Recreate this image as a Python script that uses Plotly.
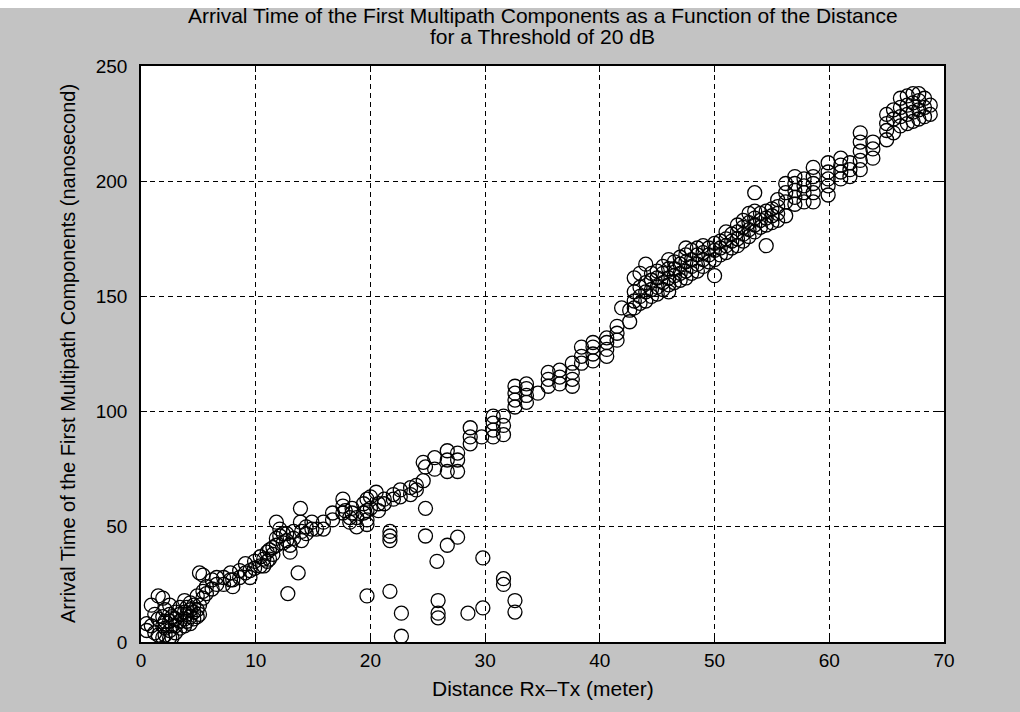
import plotly.graph_objects as go

# ---------------- data ----------------
stations_a = [0.5, 0.9, 1.2, 1.5, 1.9, 2.1, 2.5, 2.7, 3.0, 3.4, 3.8, 4.0, 4.3, 4.6, 4.9,
              5.1, 5.4, 5.7, 6.2, 6.6, 7.2, 7.8, 8.0, 8.6, 9.1, 9.5, 9.9, 10.4, 10.7,
              11.0, 11.2, 11.5, 11.8]
times_a = [[5, 8], [16, 7], [12, 4], [20, 10, 3], [19, 11, 7, 2], [14, 9, 3, 6],
           [9, 5, 2, 12, 16], [2, 7, 11], [7, 4, 10, 13], [9, 6, 12, 15], [18, 10, 7, 13],
           [12, 9, 15], [8, 11, 14, 17], [10, 13, 16], [11, 14, 20], [12, 30, 16],
           [29, 19, 22], [24, 21], [27, 23], [28, 25], [25, 28], [30, 27], [27, 24],
           [31, 28], [34, 30], [31, 28], [35, 32], [37, 33], [33, 36], [39, 35], [36, 40],
           [41, 38], [45, 52, 42]]

stations_b = [12.1, 12.4, 12.7, 13.0, 13.3, 13.9, 14.0, 14.4, 14.9, 15.3, 15.9, 16.7,
              17.6, 17.8, 18.2, 18.4, 18.8, 19.4, 19.7, 20.0, 20.5, 20.7, 21.2, 22.0,
              22.6, 23.5, 24.0, 24.6, 24.8, 25.6, 26.7, 27.6, 28.7, 29.7]
times_b = [[49, 46], [43, 47], [47, 44], [39, 42], [45, 48], [58, 52], [44, 48], [47, 50],
           [52, 49], [49], [49, 52], [56, 53], [62, 56, 59], [57], [52, 54], [56, 58],
           [54, 50], [60, 56], [51, 53, 57, 62], [63, 58], [65], [60, 57], [62, 60],
           [62, 64], [66, 63], [67, 64], [66, 68], [78, 70], [76], [80, 75], [74, 79, 83],
           [74, 79, 82], [86, 89, 93], [89]]

stations_c = [30.7, 31.6, 32.6, 33.6, 34.6, 35.5, 36.5, 37.6, 38.4, 39.4, 40.6, 41.5,
              41.9, 42.6]
times_c = [[89, 92, 95, 98], [90, 94, 98], [102, 105, 108, 111], [104, 107, 110, 112],
           [108], [111, 114, 117], [112, 115, 118], [111, 114, 117, 121], [121, 124, 128],
           [122, 125, 128, 130], [124, 127, 130, 132], [131, 134, 137], [145], [139, 144]]

stations_d = [43.0, 43.5, 44.0, 44.5, 45.0, 45.5, 46.0, 46.5, 47.0, 47.5, 48.0, 48.5,
              49.0, 49.5, 50.0, 50.5, 51.0, 51.5, 52.0, 52.5, 53.0, 53.5, 54.0, 54.5, 55.0]
times_d = [[145, 148, 152, 158], [147, 150, 154, 160], [148, 152, 156, 164],
           [150, 153, 157, 160], [151, 154, 158, 161], [153, 156, 160, 163],
           [152, 155, 158, 162, 166], [156, 159, 162, 165], [157, 160, 164, 167],
           [158, 161, 165, 168, 171], [160, 163, 166, 170], [161, 164, 168, 171],
           [163, 166, 169, 172], [165, 168, 171], [159, 166, 170, 173], [168, 171, 174],
           [169, 172, 175, 178], [171, 174, 177], [172, 175, 178, 181], [174, 177, 180, 183],
           [176, 179, 182, 186], [178, 181, 184, 187, 195], [180, 183, 186],
           [172, 181, 184, 187], [182, 185, 188]]

stations_e = [55.5, 56.2, 57.0, 57.8, 58.6, 59.9, 61.0, 61.8, 62.7, 63.8, 65.0, 65.6,
              66.2, 66.8, 67.3, 67.8, 68.3, 68.8]
times_e = [[183, 186, 189, 192], [185, 191, 195, 199], [190, 193, 196, 199, 202],
           [191, 195, 198, 201], [191, 195, 199, 202, 206], [194, 198, 201, 204, 208],
           [201, 204, 207, 210], [202, 205, 208], [205, 209, 213, 217, 221],
           [210, 214, 217], [218, 222, 225, 229], [221, 227, 231], [224, 228, 232, 236],
           [225, 229, 233, 237], [226, 230, 234, 238], [227, 231, 235, 238],
           [228, 232, 236], [229, 233]]

outlier_x = [12.8, 13.7, 19.7, 21.7, 21.7, 21.7, 21.7, 22.7, 22.7, 24.8, 24.8, 25.8,
             25.9, 25.9, 25.9, 26.7, 27.6, 28.5, 29.8, 29.8, 31.6, 31.6, 32.6, 32.6]
outlier_y = [21, 30, 20, 22, 44, 46, 48, 12.5, 2.5, 58, 46, 35, 18, 12.5, 10.5, 42, 45.5,
             12.5, 14.8, 36.5, 27.5, 25, 18, 13]

x_ticks = [0, 10, 20, 30, 40, 50, 60, 70]
y_ticks = [0, 50, 100, 150, 200, 250]

title_line1 = "Arrival Time of the First Multipath Components as a Function of the Distance"
title_line2 = "for a Threshold of 20 dB"
x_title = "Distance Rx\u2013Tx (meter)"
y_title = "Arrival Time of the First Multipath Components (nanosecond)"

# ---------------- assemble ----------------
xs, ys = [], []
for st, tm in [(stations_a, times_a), (stations_b, times_b), (stations_c, times_c),
               (stations_d, times_d), (stations_e, times_e)]:
    for sx, tl in zip(st, tm):
        for t in tl:
            xs.append(sx)
            ys.append(t)
xs += outlier_x
ys += outlier_y

FONT = "Liberation Sans, Arial, sans-serif"
BG = "#c3c3c3"

fig = go.Figure()
fig.add_trace(go.Scatter(
    x=xs, y=ys, mode="markers",
    marker=dict(symbol="circle-open", size=14, color="black", line=dict(width=1.3, color="black")),
    showlegend=False, hoverinfo="skip"))

axis_common = dict(
    showline=True, linecolor="black", linewidth=1.5, mirror="ticks",
    ticks="inside", ticklen=6, tickcolor="black", tickwidth=1,
    showgrid=True, gridcolor="black", gridwidth=1, griddash="5px,4px",
    zeroline=False, tickfont=dict(family=FONT, size=19, color="black"),
)

fig.update_xaxes(range=[0, 70], tickvals=x_ticks, ticktext=[str(v) for v in x_ticks],
                 **axis_common)
fig.update_yaxes(range=[0, 250], tickvals=y_ticks, ticktext=[str(v) for v in y_ticks],
                 ticklabelstandoff=8, **axis_common)

W, H = 1020, 712
L, R, T, B = 141, 76, 66, 70
pw, ph = W - L - R, H - T - B


def py(p):
    """pixel row (from top) -> paper y"""
    return (H - B - p) / ph


def px(p):
    """pixel column -> paper x"""
    return (p - L) / pw


fig.update_layout(
    width=W, height=H,
    margin=dict(l=L, r=R, t=T, b=B, pad=0),
    paper_bgcolor=BG, plot_bgcolor="white",
    font=dict(family=FONT, color="black"),
    annotations=[
        dict(text=title_line1, xref="paper", yref="paper", x=0.5, y=py(16),
             xanchor="center", yanchor="middle", showarrow=False,
             font=dict(family=FONT, size=21, color="black")),
        dict(text=title_line2, xref="paper", yref="paper", x=0.5, y=py(37),
             xanchor="center", yanchor="middle", showarrow=False,
             font=dict(family=FONT, size=21, color="black")),
        dict(text=x_title, xref="paper", yref="paper", x=0.5, y=py(688),
             xanchor="center", yanchor="middle", showarrow=False,
             font=dict(family=FONT, size=21, color="black")),
        dict(text=y_title, xref="paper", yref="paper", x=px(68), y=0.5,
             xanchor="center", yanchor="middle", textangle=-90, showarrow=False,
             font=dict(family=FONT, size=20, color="black")),
    ],
    shapes=[dict(type="rect", xref="paper", yref="paper", x0=px(0), x1=px(W),
                 y0=py(8), y1=py(0), fillcolor="white",
                 line=dict(width=0), layer="above")],
)

fig.write_html("out.html", config={"displayModeBar": False},
               post_script="document.body.style.margin='0';")
